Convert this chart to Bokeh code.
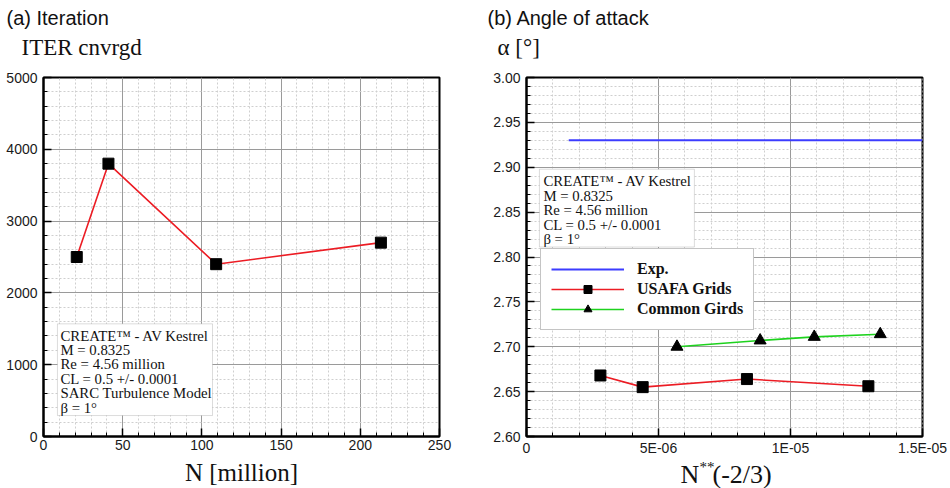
from bokeh.plotting import figure
from bokeh.layouts import row, column
from bokeh.core.properties import value
from bokeh.models import (SingleIntervalTicker, FixedTicker, CustomJSTickFormatter,
                          PrintfTickFormatter, BoxAnnotation, Label, Legend, LegendItem, Range1d)
from bokeh.embed import file_html
from bokeh.resources import INLINE

# ---------------- data ----------------
# Panel (a): iterations to converge vs grid size
n_million = [21, 41, 109, 213]
iter_cnvrgd = [2500, 3800, 2400, 2700]

# Panel (b): angle of attack vs N^(-2/3)
exp_n = [1.6e-6, 1.5e-5]
exp_alpha = [2.93, 2.93]
usafa_n = [2.8e-6, 4.4e-6, 8.35e-6, 1.295e-5]
usafa_alpha = [2.668, 2.655, 2.664, 2.656]
common_n = [5.7e-6, 8.85e-6, 1.09e-5, 1.34e-5]
common_alpha = [2.700, 2.707, 2.711, 2.714]

b_xticks = [0, 5e-6, 1e-5, 1.5e-5]

box_a_lines = ["CREATE\u2122 - AV Kestrel", "M = 0.8325", "Re = 4.56 million",
               "CL = 0.5 +/- 0.0001", "SARC Turbulence Model", "\u03b2 = 1\u00b0"]
box_b_lines = ["CREATE\u2122 - AV Kestrel", "M = 0.8325", "Re = 4.56 million",
               "CL = 0.5 +/- 0.0001", "\u03b2 = 1\u00b0"]

SANS = "Liberation Sans"
SERIF = "Liberation Serif"
RED = "#ec1c24"
GREEN = "#1ed21e"
BLUE = "#3c3cff"
INK = "#111111"

HEAD_H = 67      # header strip with panel titles and y-axis titles
FOOT_H = 30      # strip under panel (b) with its x-axis title


def blank(width, height, x_range, y_range, left=0, right=0):
    f = figure(width=width, height=height, x_range=x_range, y_range=y_range,
               x_axis_type=None, y_axis_type=None, toolbar_location=None,
               output_backend="svg", min_border_left=left, min_border_right=right,
               min_border_top=0, min_border_bottom=0)
    f.outline_line_color = None
    f.background_fill_color = "white"
    f.border_fill_color = "white"
    return f


def style(p):
    p.outline_line_color = "black"
    p.outline_line_width = 2
    p.outline_line_alpha = 1
    p.background_fill_color = "white"
    p.border_fill_color = "white"
    for ax in (p.xaxis[0], p.yaxis[0]):
        ax.axis_line_color = "black"
        ax.axis_line_width = 2
        ax.major_tick_in = 8
        ax.major_tick_out = 0
        ax.minor_tick_in = 4
        ax.minor_tick_out = 0
        ax.major_tick_line_color = "black"
        ax.major_tick_line_width = 1.5
        ax.minor_tick_line_color = "black"
        ax.minor_tick_line_width = 1
        ax.major_label_text_font = SANS
        ax.major_label_text_font_size = "14px"
        ax.major_label_text_color = "#1a1a1a"
    p.xaxis[0].major_label_standoff = 3
    p.yaxis[0].major_label_standoff = 6
    for g in (p.xgrid[0], p.ygrid[0]):
        g.grid_line_color = "#9a9a9a"
        g.grid_line_width = 1
        g.minor_grid_line_color = "#cfcfcf"
        g.minor_grid_line_dash = "2 2"
        g.minor_grid_line_width = 1


def add_box(p, left, right, top, bottom, tx, ys, lines):
    p.add_layout(BoxAnnotation(left=left, right=right, top=top, bottom=bottom,
                               fill_color="white", fill_alpha=1,
                               line_color="#8a8a8a", line_width=1))
    for yy, t in zip(ys, lines):
        p.add_layout(Label(x=tx, y=yy, text=t, text_font=SERIF, text_font_size="14.8px",
                           text_baseline="middle", text_color=INK))


# ---------------- header (titles) ----------------
head = blank(950, HEAD_H, Range1d(0, 950), Range1d(HEAD_H, 0))
head.text(x=[6, 487], y=[17, 17], text=["(a) Iteration", "(b) Angle of attack"],
          text_font=value(SANS), text_font_size="20px", text_baseline="middle",
          text_color=INK)
head.text(x=[21, 497], y=[47, 47], text=["ITER cnvrgd", "\u03b1 [\u00b0]"],
          text_font=value(SERIF), text_font_size="23px", text_baseline="middle",
          text_color=INK)

# ---------------- panel (a) ----------------
p1 = figure(width=475, height=488 - HEAD_H, title=None, toolbar_location=None,
            output_backend="svg", x_range=Range1d(0, 250), y_range=Range1d(0, 5000),
            min_border_left=43, min_border_right=36, min_border_top=10, min_border_bottom=51)
p1.xaxis.ticker = SingleIntervalTicker(interval=50, num_minor_ticks=5)
p1.yaxis.ticker = SingleIntervalTicker(interval=1000, num_minor_ticks=5)
style(p1)
p1.xaxis.axis_label = "N [million]"
p1.xaxis.axis_label_text_font = SERIF
p1.xaxis.axis_label_text_font_size = "25px"
p1.xaxis.axis_label_text_font_style = "normal"
p1.xaxis.axis_label_text_color = INK
p1.xaxis.axis_label_standoff = 6

p1.line(n_million, iter_cnvrgd, line_color=RED, line_width=1.6)
p1.scatter(n_million, iter_cnvrgd, marker="square", size=11, fill_color="black",
           line_color="black")

add_box(p1, 8.8, 106.7, 1569, 292, 10.7,
        [1403, 1203, 1003, 803, 603, 403], box_a_lines)

# ---------------- panel (b) ----------------
bx0, bx1 = 0, 1.5e-5
p2 = figure(width=475, height=488 - HEAD_H - FOOT_H, title=None, toolbar_location=None,
            output_backend="svg", x_range=Range1d(bx0, bx1), y_range=Range1d(2.60, 3.00),
            min_border_left=51, min_border_right=28, min_border_top=10, min_border_bottom=21)
p2.xaxis.ticker = FixedTicker(ticks=b_xticks,
                              minor_ticks=[i * 1e-6 for i in range(16)])
p2.yaxis.ticker = SingleIntervalTicker(interval=0.05, num_minor_ticks=5)
p2.yaxis.formatter = PrintfTickFormatter(format="%.2f")
p2.xaxis.formatter = CustomJSTickFormatter(code="""
    if (Math.abs(tick) < 1e-12) return "0";
    const s = tick.toExponential();
    const parts = s.split("e");
    const e = parseInt(parts[1]);
    return parts[0] + "E" + (e < 0 ? "-" : "+") + String(Math.abs(e)).padStart(2, "0");
""")
style(p2)
p2.xaxis[0].major_label_standoff = 3

exp_r = p2.line(exp_n, exp_alpha, line_color=BLUE, line_width=2)
us_l = p2.line(usafa_n, usafa_alpha, line_color=RED, line_width=1.6)
us_p = p2.scatter(usafa_n, usafa_alpha, marker="square", size=11, fill_color="black",
                  line_color="black")
cm_l = p2.line(common_n, common_alpha, line_color=GREEN, line_width=1.6)
cm_p = p2.scatter(common_n, common_alpha, marker="triangle", size=12, fill_color="black",
                  line_color="black")

add_box(p2, 4.9e-7, 6.36e-6, 2.8978, 2.8111, 6.4e-7,
        [2.8844, 2.8683, 2.8522, 2.8361, 2.8200], box_b_lines)

legend = Legend(items=[LegendItem(label="Exp.", renderers=[exp_r]),
                       LegendItem(label="USAFA Grids", renderers=[us_l, us_p]),
                       LegendItem(label="Common Girds", renderers=[cm_l, cm_p])],
                location=(14, 106), margin=0, padding=10, spacing=0,
                glyph_width=73, glyph_height=20, label_height=20, label_standoff=13,
                label_text_font=SERIF, label_text_font_style="bold",
                label_text_font_size="16px", label_text_color=INK,
                border_line_color="#8a8a8a", border_line_width=1,
                background_fill_color="white", background_fill_alpha=1)
p2.add_layout(legend)

# x-axis title of panel (b): N**(-2/3), in a strip aligned with panel (b)'s frame
foot = blank(475, FOOT_H, p2.x_range, Range1d(FOOT_H, 0), left=51, right=28)
xc = (bx0 + bx1) / 2
foot.text(x=[xc], y=[16], text=["N"], x_offset=-44, text_font=value(SERIF),
          text_font_size="26px", text_baseline="middle", text_color=INK)
foot.text(x=[xc], y=[0], text=["**"], x_offset=-25, text_font=value(SERIF),
          text_font_size="15px", text_baseline="top", text_color=INK)
foot.text(x=[xc], y=[16], text=["(-2/3)"], x_offset=-12, text_font=value(SERIF),
          text_font_size="26px", text_baseline="middle", text_color=INK)

layout = column(head, row(p1, column(p2, foot, spacing=0), spacing=0), spacing=0)
open("out.html", "w").write(file_html(layout, INLINE))
